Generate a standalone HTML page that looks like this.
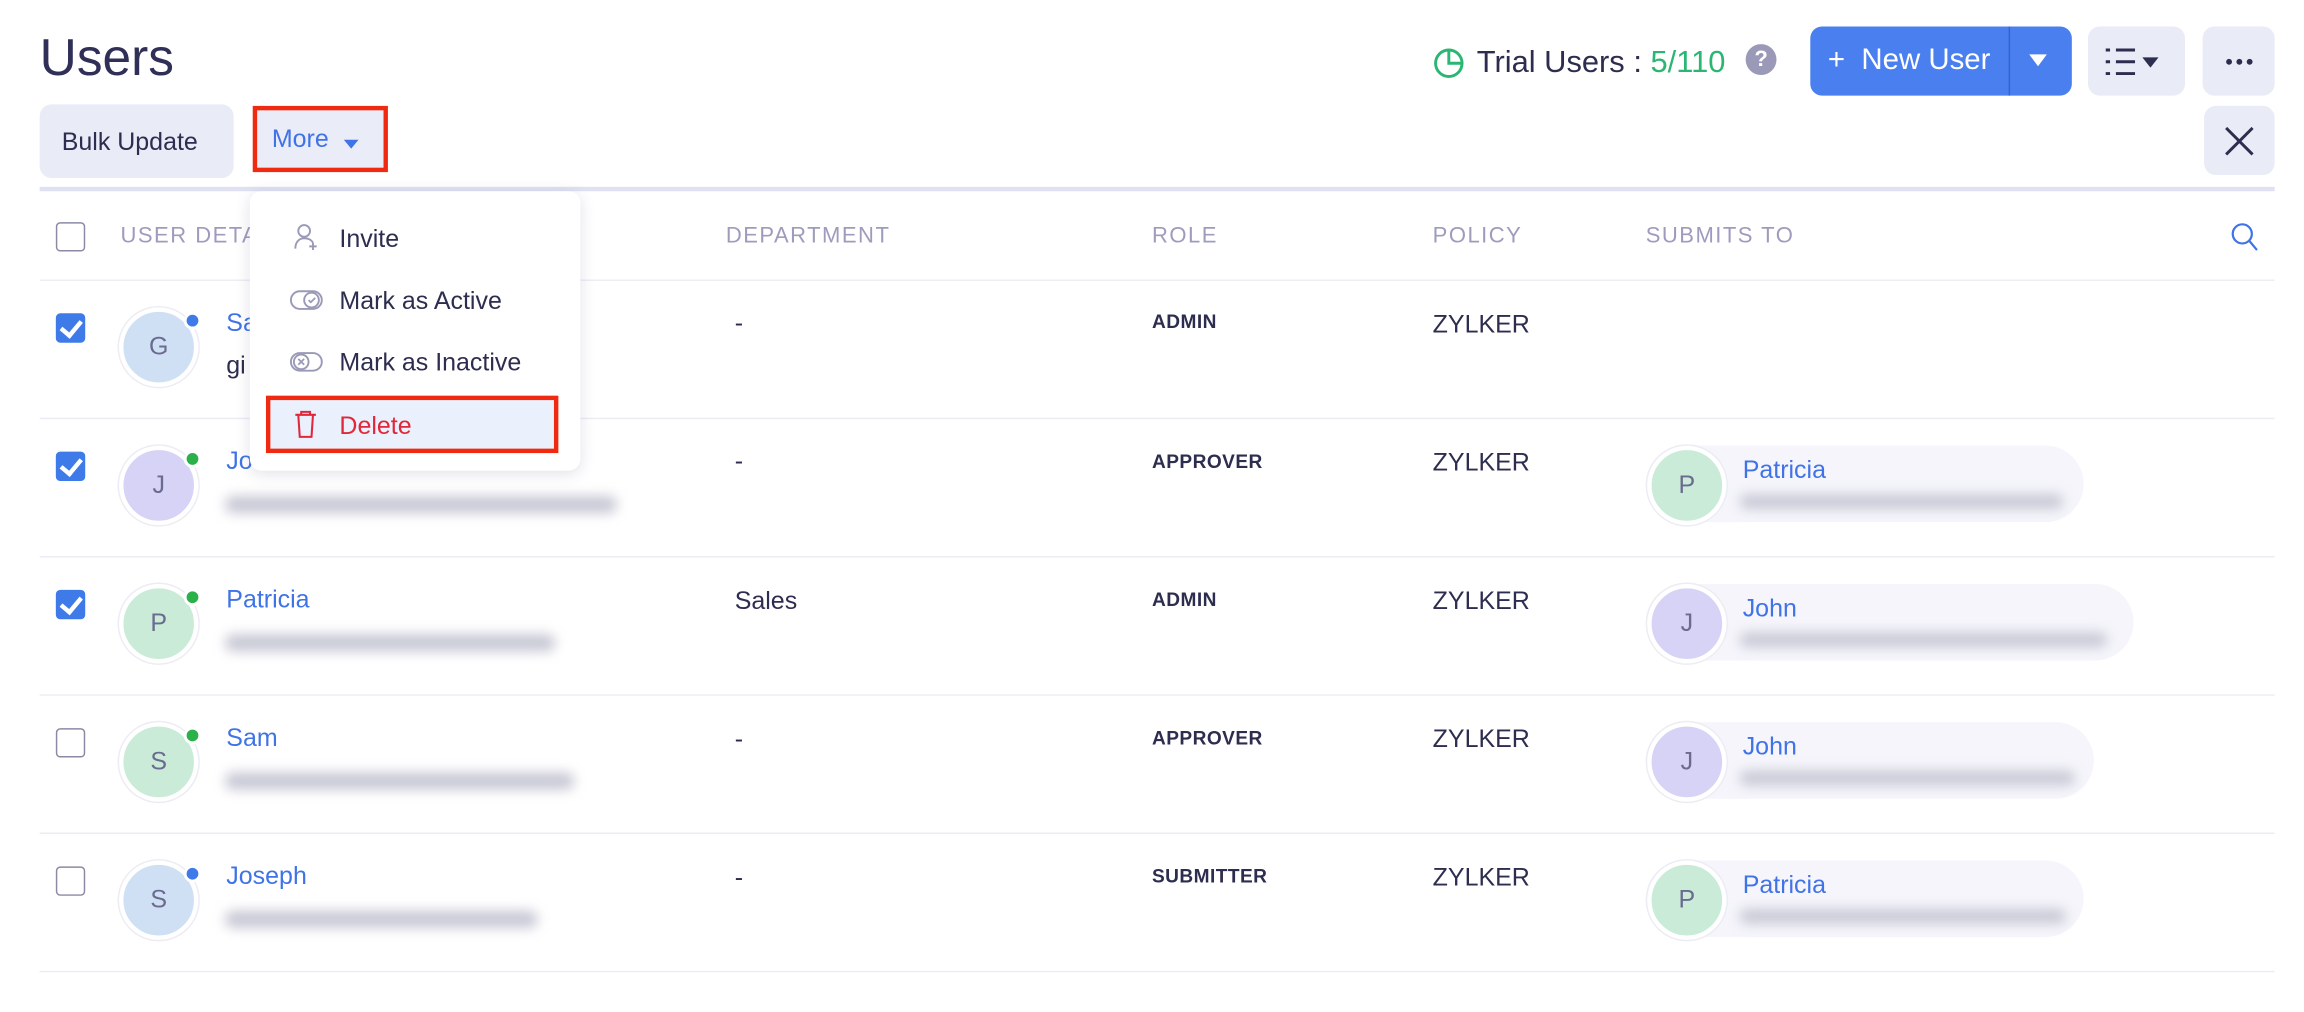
<!DOCTYPE html>
<html><head><meta charset="utf-8"><style>
*{box-sizing:border-box;margin:0;padding:0}
html,body{width:2304px;height:1012px;overflow:hidden;background:#fff}
#s{position:absolute;left:0;top:0;width:1568px;height:688px;transform:scale(1.46939,1.47093);transform-origin:0 0;font-family:"Liberation Sans",sans-serif;color:#2d2d4f}
.a{position:absolute;white-space:nowrap}
.btn{position:absolute;background:#e9ebf6;border-radius:8px}
.hd{position:absolute;top:152px;font-size:15px;letter-spacing:1px;color:#9d9cbd}
.hl{position:absolute;left:27px;width:1521px;height:1px;background:#ececf6}
.cb{position:absolute;left:38px;width:20px;height:20px;border:1.5px solid #8a8aa5;border-radius:3px;background:#fff}
.cb.on{background:#3f7be8;border-color:#3f7be8}
.cb.on:after{content:"";position:absolute;left:5px;top:1px;width:6px;height:11px;border:solid #fff;border-width:0 3px 3px 0;transform:rotate(40deg)}
.av{position:absolute;width:54px;height:54px;border-radius:50%;border:3px solid #fff;box-shadow:0 0 0 1px #ececf4;text-align:center;line-height:48px;font-size:17px;color:#6b6b8f}
.dot{position:absolute;width:12px;height:12px;border-radius:50%;border:2px solid #fff}
.nm{position:absolute;font-size:17px;color:#3f73e6}
.bl{position:absolute;height:12px;background:#c9c9d6;filter:blur(4px);border-radius:6px}
.tx{position:absolute;font-size:17px;color:#2d2d4f}
.rl{position:absolute;font-size:13px;font-weight:bold;color:#2d2d4f;letter-spacing:.3px}
.pill{position:absolute;height:52px;border-radius:26px;background:#f5f5fb}
.mi{position:absolute;left:231px;font-size:17px;color:#2d2d4f}
.d3{position:absolute;width:4px;height:4px;border-radius:50%;background:#2d2d4f;top:40px}
</style></head><body><div id="s">
<div class="a" style="left:27px;top:20px;font-size:35px;color:#2f2f57">Users</div>
<svg class="a" style="left:975px;top:32px" width="22" height="22" viewBox="0 0 22 22"><circle cx="11" cy="11" r="9" fill="none" stroke="#2bb673" stroke-width="2"/><path d="M11 2v9h9" fill="none" stroke="#2bb673" stroke-width="2"/></svg>
<div class="a" style="left:1005px;top:31px;font-size:21px;color:#2d2d4f">Trial Users : <span style="color:#2bb673">5/110</span></div>
<div class="a" style="left:1188px;top:30px;width:21px;height:21px;border-radius:50%;background:#9a9ab8;color:#fff;font-size:15px;font-weight:bold;text-align:center;line-height:21px">?</div>
<div class="btn" style="left:1232px;top:18px;width:178px;height:47px;background:#4a7ff0"></div>
<div class="a" style="left:1367px;top:18px;width:1px;height:47px;background:#3563c9"></div>
<div class="a" style="left:1244px;top:30px;font-size:20px;color:#fff">+&nbsp; New User</div>
<div class="a" style="left:1381px;top:37px;width:0;height:0;border-left:6px solid transparent;border-right:6px solid transparent;border-top:8px solid #fff"></div>
<div class="btn" style="left:1421px;top:18px;width:66px;height:47px"></div>
<svg class="a" style="left:1433px;top:31px" width="40" height="22"><g stroke="#2d2d4f" stroke-width="2"><line x1="0" y1="3" x2="3" y2="3"/><line x1="7" y1="3" x2="20" y2="3"/><line x1="0" y1="11" x2="3" y2="11"/><line x1="7" y1="11" x2="20" y2="11"/><line x1="0" y1="19" x2="3" y2="19"/><line x1="7" y1="19" x2="20" y2="19"/></g><path d="M25 8h11l-5.5 7z" fill="#2d2d4f"/></svg>
<div class="btn" style="left:1499px;top:18px;width:49px;height:47px"></div>
<div class="d3" style="left:1515px"></div><div class="d3" style="left:1522px"></div><div class="d3" style="left:1529px"></div>
<div class="btn" style="left:1500px;top:72px;width:48px;height:47px"></div>
<svg class="a" style="left:1513px;top:85px" width="22" height="22"><path d="M2 2L20 20M20 2L2 20" stroke="#2d2d4f" stroke-width="2"/></svg>
<div class="btn" style="left:27px;top:71px;width:132px;height:50px"></div>
<div class="a" style="left:42px;top:87px;font-size:17px">Bulk Update</div>
<div class="a" style="left:172px;top:72px;width:92px;height:45px;background:#eaecf7;border:3px solid #f02a10"></div>
<div class="a" style="left:185px;top:85px;font-size:17px;color:#3f73e6">More</div>
<div class="a" style="left:234px;top:95px;border-left:5px solid transparent;border-right:5px solid transparent;border-top:6px solid #3f73e6"></div>
<div class="a" style="left:27px;top:127px;width:1521px;height:3px;background:#dfe1f3"></div>
<div class="cb" style="top:151px"></div>
<div class="hd" style="left:82px">USER DETAILS</div>
<div class="hd" style="left:494px">DEPARTMENT</div>
<div class="hd" style="left:784px">ROLE</div>
<div class="hd" style="left:975px">POLICY</div>
<div class="hd" style="left:1120px">SUBMITS TO</div>
<svg class="a" style="left:1518px;top:151px" width="20" height="22"><circle cx="8" cy="8" r="6.5" fill="none" stroke="#3f73e6" stroke-width="1.5"/><line x1="13" y1="13" x2="18" y2="19" stroke="#3f73e6" stroke-width="1.5"/></svg>
<div class="hl" style="top:190px"></div><div class="hl" style="top:284px"></div><div class="hl" style="top:378px"></div><div class="hl" style="top:472px"></div><div class="hl" style="top:566px"></div><div class="hl" style="top:660px"></div>

<!-- row1 -->
<div class="cb on" style="top:213px"></div>
<div class="av" style="left:81px;top:209px;background:#cfe0f5">G</div><div class="dot" style="left:125px;top:212px;background:#3f7be8"></div>
<div class="nm" style="left:154px;top:210px">Sa</div><div class="tx" style="left:154px;top:239px">gi</div>
<div class="tx" style="left:500px;top:210px">-</div><div class="rl" style="left:784px;top:211px">ADMIN</div><div class="tx" style="left:975px;top:211px">ZYLKER</div>
<!-- row2 -->
<div class="cb on" style="top:307px"></div>
<div class="av" style="left:81px;top:303px;background:#d6d3f7">J</div><div class="dot" style="left:125px;top:306px;background:#2bb04a"></div>
<div class="nm" style="left:154px;top:304px">Jo</div><div class="bl" style="left:153px;top:337px;width:267px"></div>
<div class="tx" style="left:500px;top:304px">-</div><div class="rl" style="left:784px;top:306px">APPROVER</div><div class="tx" style="left:975px;top:305px">ZYLKER</div>
<div class="pill" style="left:1120px;top:303px;width:298px"></div>
<div class="av" style="left:1121px;top:303px;background:#c9ebd8">P</div>
<div class="nm" style="left:1186px;top:310px">Patricia</div><div class="bl" style="left:1184px;top:336px;width:220px;height:10px"></div>
<!-- row3 -->
<div class="cb on" style="top:401px"></div>
<div class="av" style="left:81px;top:397px;background:#c9ebd8">P</div><div class="dot" style="left:125px;top:400px;background:#2bb04a"></div>
<div class="nm" style="left:154px;top:398px">Patricia</div><div class="bl" style="left:153px;top:431px;width:225px"></div>
<div class="tx" style="left:500px;top:399px">Sales</div><div class="rl" style="left:784px;top:400px">ADMIN</div><div class="tx" style="left:975px;top:399px">ZYLKER</div>
<div class="pill" style="left:1120px;top:397px;width:332px"></div>
<div class="av" style="left:1121px;top:397px;background:#d6d3f7">J</div>
<div class="nm" style="left:1186px;top:404px">John</div><div class="bl" style="left:1184px;top:430px;width:250px;height:10px"></div>
<!-- row4 -->
<div class="cb" style="top:495px"></div>
<div class="av" style="left:81px;top:491px;background:#c9ebd8">S</div><div class="dot" style="left:125px;top:494px;background:#2bb04a"></div>
<div class="nm" style="left:154px;top:492px">Sam</div><div class="bl" style="left:153px;top:525px;width:238px"></div>
<div class="tx" style="left:500px;top:493px">-</div><div class="rl" style="left:784px;top:494px">APPROVER</div><div class="tx" style="left:975px;top:493px">ZYLKER</div>
<div class="pill" style="left:1120px;top:491px;width:305px"></div>
<div class="av" style="left:1121px;top:491px;background:#d6d3f7">J</div>
<div class="nm" style="left:1186px;top:498px">John</div><div class="bl" style="left:1184px;top:524px;width:228px;height:10px"></div>
<!-- row5 -->
<div class="cb" style="top:589px"></div>
<div class="av" style="left:81px;top:585px;background:#cfe0f5">S</div><div class="dot" style="left:125px;top:588px;background:#3f7be8"></div>
<div class="nm" style="left:154px;top:586px">Joseph</div><div class="bl" style="left:153px;top:619px;width:213px"></div>
<div class="tx" style="left:500px;top:587px">-</div><div class="rl" style="left:784px;top:588px">SUBMITTER</div><div class="tx" style="left:975px;top:587px">ZYLKER</div>
<div class="pill" style="left:1120px;top:585px;width:298px"></div>
<div class="av" style="left:1121px;top:585px;background:#c9ebd8">P</div>
<div class="nm" style="left:1186px;top:592px">Patricia</div><div class="bl" style="left:1184px;top:618px;width:222px;height:10px"></div>

<!-- dropdown -->
<div class="a" style="left:170px;top:130px;width:225px;height:190px;background:#fff;border-radius:8px;box-shadow:0 2px 10px rgba(60,60,110,.15)"></div>
<svg class="a" style="left:199px;top:151px" width="20" height="20"><circle cx="8" cy="6" r="4" fill="none" stroke="#9a9ab8" stroke-width="1.3"/><path d="M2 18c0-5 3-7 6-7s5 1 6 3M14 14v5M11.5 16.5h5" fill="none" stroke="#9a9ab8" stroke-width="1.3"/></svg>
<div class="mi" style="top:153px">Invite</div>
<svg class="a" style="left:197px;top:196px" width="24" height="16"><rect x="1" y="2" width="21" height="12" rx="6" fill="none" stroke="#9a9ab8" stroke-width="1.3"/><circle cx="15" cy="8" r="5" fill="none" stroke="#9a9ab8" stroke-width="1.3"/><path d="M13 8l1.5 1.5 3-3" fill="none" stroke="#9a9ab8" stroke-width="1.2"/></svg>
<div class="mi" style="top:195px">Mark as Active</div>
<svg class="a" style="left:197px;top:238px" width="24" height="16"><rect x="1" y="2" width="21" height="12" rx="6" fill="none" stroke="#9a9ab8" stroke-width="1.3"/><circle cx="8" cy="8" r="5" fill="none" stroke="#9a9ab8" stroke-width="1.3"/><path d="M6 6l4 4M10 6l-4 4" stroke="#9a9ab8" stroke-width="1.2"/></svg>
<div class="mi" style="top:237px">Mark as Inactive</div>
<div class="a" style="left:181px;top:269px;width:199px;height:39px;background:#eaf0fc;border:3px solid #f02a10"></div>
<svg class="a" style="left:200px;top:279px" width="16" height="20"><path d="M1 3h14M5 3V1h6v2M3 3l1 15h8l1-15" fill="none" stroke="#e0283a" stroke-width="1.4"/></svg>
<div class="mi" style="top:280px;color:#e0283a">Delete</div>
</div></body></html>
